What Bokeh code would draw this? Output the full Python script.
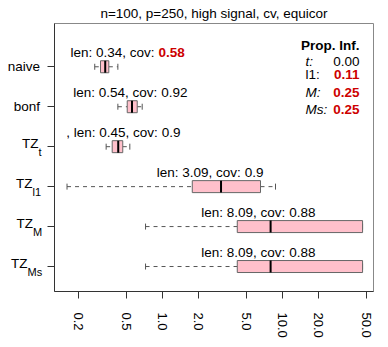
from bokeh.plotting import figure
from bokeh.layouts import row
from bokeh.models import (ColumnDataSource, Range1d, FixedTicker,
                          CustomJSTickFormatter, Label)
from bokeh.core.properties import value
from bokeh.embed import file_html
from bokeh.resources import INLINE

# ---------------- data ----------------
title = "n=100, p=250, high signal, cv, equicor"
methods = ["naive", "bonf", "TZ_t", "TZ_l1", "TZ_M", "TZ_Ms"]
label_main = ["naive", "bonf", "TZ", "TZ", "TZ", "TZ"]
label_sub = ["", "", "t", "l1", "M", "Ms"]
whisk_lo = [0.274, 0.427, 0.341, 0.161, 0.726, 0.726]
q1 = [0.306, 0.511, 0.383, 1.78, 4.22, 4.22]
med = [0.335, 0.56, 0.43, 3.09, 8.0, 8.0]
q3 = [0.359, 0.619, 0.469, 6.59, 46.7, 46.7]
whisk_hi = [0.427, 0.681, 0.537, 8.79, 46.7, 46.7]
len_txt = ["0.34", "0.54", "0.45", "3.09", "8.09", "8.09"]
cov_txt = ["0.58", "0.92", "0.9", "0.9", "0.88", "0.88"]
cov_red = [True, False, False, False, False, False]
prefix = ["", "", ", ", "", "", ""]
# x (data units) where the "len: .., cov:" part ends
label_anchor = [0.863, 0.908, 0.917, 4.51, 10.59, 10.59]

prop_title = "Prop. Inf."
prop_names = ["t:", "l1:", "M:", "Ms:"]
prop_vals = ["0.00", "0.11", "0.25", "0.25"]
prop_italic = [True, False, True, True]
prop_red = [False, True, True, True]

x_ticks = [0.2, 0.5, 1, 2, 5, 10, 20, 50]

# ---------------- layout helpers ----------------
FONT_NAME = "Liberation Sans"
FONT = value(FONT_NAME)
RED = "#CD0000"
LEFT_W = 46            # width of the strip holding the row names
FRAME_LEFT_PAGE = 54
FRAME_BOTTOM_PAGE = 291


def fx(page_x):
    return page_x - FRAME_LEFT_PAGE


def fy(page_y):
    return FRAME_BOTTOM_PAGE - page_y


ypos = list(range(1, len(methods) + 1))
bh = 0.15
yr = Range1d(6.625, -0.083)

p = figure(width=340, height=345, x_axis_type="log",
           x_range=Range1d(0.1266, 57.6), y_range=yr,
           output_backend="svg", toolbar_location=None,
           min_border_left=FRAME_LEFT_PAGE - LEFT_W, min_border_right=13,
           min_border_top=23, min_border_bottom=54)
p.title.text = title
p.title.align = "center"
p.title.offset = 5
p.title.standoff = 5
p.title.text_font = FONT_NAME
p.title.text_font_size = "13.5px"
p.title.text_font_style = "normal"
p.title.text_color = "black"
p.xgrid.visible = False
p.ygrid.visible = False
p.outline_line_color = "#888888"
p.background_fill_color = "white"
p.border_fill_color = "white"

src = ColumnDataSource(dict(
    y=ypos, lo=whisk_lo, q1=q1, med=med, q3=q3, hi=whisk_hi,
    top=[v - bh for v in ypos], bot=[v + bh for v in ypos],
    stop=[v - bh / 2 for v in ypos], sbot=[v + bh / 2 for v in ypos],
))

# whiskers (dashed)
p.segment(x0="lo", y0="y", x1="q1", y1="y", source=src, line_color="#555555",
          line_width=1, line_dash="4 4")
p.segment(x0="q3", y0="y", x1="hi", y1="y", source=src, line_color="#555555",
          line_width=1, line_dash="4 4")
# staples
p.segment(x0="lo", y0="stop", x1="lo", y1="sbot", source=src, line_color="#555555", line_width=1)
p.segment(x0="hi", y0="stop", x1="hi", y1="sbot", source=src, line_color="#555555", line_width=1)
# boxes
p.quad(left="q1", right="q3", top="top", bottom="bot", source=src,
       fill_color="#FFC0CB", line_color="#666666", line_width=1)
# medians
p.segment(x0="med", y0="top", x1="med", y1="bot", source=src, line_color="black", line_width=2)

# per-row labels
lab_src = ColumnDataSource(dict(
    x=label_anchor, y=[v - 0.36 for v in ypos],
    t=[f"{pre}len: {l}, cov:" for pre, l in zip(prefix, len_txt)],
))
p.text(x="x", y="y", text="t", source=lab_src, text_align="right",
       text_baseline="middle", text_font=FONT, text_font_size="13.5px",
       text_color="black")
reg = [i for i in range(len(methods)) if not cov_red[i]]
red = [i for i in range(len(methods)) if cov_red[i]]
reg_src = ColumnDataSource(dict(x=[label_anchor[i] for i in reg],
                                y=[ypos[i] - 0.36 for i in reg],
                                t=[cov_txt[i] for i in reg]))
red_src = ColumnDataSource(dict(x=[label_anchor[i] for i in red],
                                y=[ypos[i] - 0.36 for i in red],
                                t=[cov_txt[i] for i in red]))
p.text(x="x", y="y", text="t", source=reg_src, text_align="left", x_offset=4,
       text_baseline="middle", text_font=FONT, text_font_size="13.5px",
       text_color="black")
p.text(x="x", y="y", text="t", source=red_src, text_align="left", x_offset=4,
       text_baseline="middle", text_font=FONT, text_font_size="13.5px",
       text_color=RED, text_font_style="bold")

# axes
p.xaxis.ticker = FixedTicker(ticks=x_ticks, minor_ticks=[])
p.xaxis.formatter = CustomJSTickFormatter(code="return tick.toFixed(1);")
p.xaxis.major_label_orientation = "vertical"
p.xaxis.major_label_text_font = FONT_NAME
p.xaxis.major_label_text_font_size = "13px"
p.xaxis.major_label_text_color = "black"
p.xaxis.major_label_standoff = 14
p.xaxis.minor_tick_line_color = None
p.xaxis.major_tick_out = 7
p.xaxis.major_tick_in = 0
p.xaxis.axis_line_color = "#333333"
p.xaxis.major_tick_line_color = "#333333"

p.yaxis.ticker = FixedTicker(ticks=ypos, minor_ticks=[])
p.yaxis.major_label_overrides = {i: "" for i in ypos}
p.yaxis.major_label_standoff = 0
p.yaxis.minor_tick_line_color = None
p.yaxis.major_tick_out = 7
p.yaxis.major_tick_in = 0
p.yaxis.axis_line_color = "#333333"
p.yaxis.major_tick_line_color = "#333333"

# proportion legend
p.add_layout(Label(x=fx(359), y=fy(44.7), x_units="screen", y_units="screen",
                   text=prop_title, text_align="right", text_baseline="middle",
                   text_font=FONT_NAME, text_font_size="13.5px", text_font_style="bold",
                   text_color="black"))
row_y = [60.5, 73.5, 91.5, 109]
for nm, vl, it, rd, ry in zip(prop_names, prop_vals, prop_italic, prop_red, row_y):
    p.add_layout(Label(x=fx(305), y=fy(ry), x_units="screen", y_units="screen",
                       text=nm, text_align="left", text_baseline="middle",
                       text_font=FONT_NAME, text_font_size="13.5px",
                       text_font_style="italic" if it else "normal", text_color="black"))
    p.add_layout(Label(x=fx(359), y=fy(ry), x_units="screen", y_units="screen",
                       text=vl, text_align="right", text_baseline="middle",
                       text_font=FONT_NAME, text_font_size="13.5px",
                       text_font_style="bold" if rd else "normal",
                       text_color=RED if rd else "black"))

# ---------------- strip with the row names ----------------
left = figure(width=LEFT_W, height=345, x_range=Range1d(0, LEFT_W), y_range=yr,
              output_backend="svg", toolbar_location=None,
              x_axis_location=None, y_axis_location=None,
              min_border_left=0, min_border_right=0,
              min_border_top=23, min_border_bottom=54)
left.xgrid.visible = False
left.ygrid.visible = False
left.outline_line_color = None
left.background_fill_color = "white"
left.border_fill_color = "white"

name_right = [39.5, 39.5, 38.0, 32.0, 32.5, 27.0]
main_src = ColumnDataSource(dict(
    x=name_right, y=ypos, t=label_main,
    dy=[0 if s == "" else -3 for s in label_sub]))
left.text(x="x", y="y", text="t", y_offset="dy", source=main_src,
          text_align="right", text_baseline="middle", text_font=FONT,
          text_font_size="13.5px", text_color="black")
sub_idx = [i for i, s in enumerate(label_sub) if s]
sub_src = ColumnDataSource(dict(
    x=[name_right[i] for i in sub_idx], y=[ypos[i] for i in sub_idx],
    t=[label_sub[i] for i in sub_idx]))
left.text(x="x", y="y", text="t", y_offset=5, source=sub_src,
          text_align="left", text_baseline="middle", text_font=FONT,
          text_font_size="11px", text_color="black")

layout = row(left, p, spacing=0)
open("out.html", "w").write(file_html(layout, INLINE))
